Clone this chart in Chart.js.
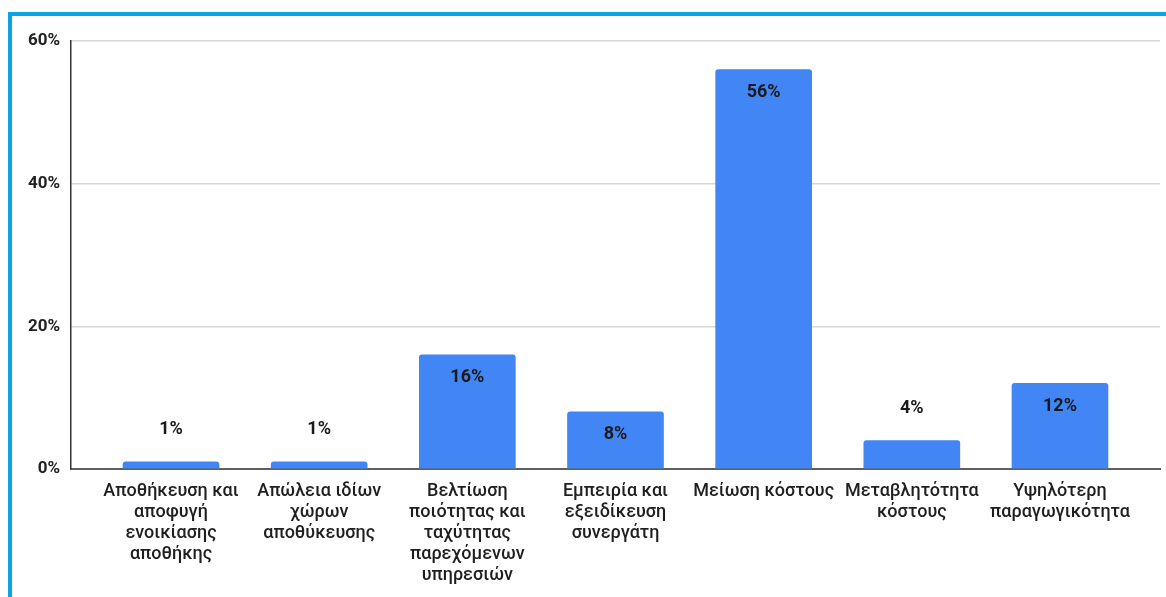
<!DOCTYPE html>
<html>
<head>
<meta charset="utf-8">
<script src="https://cdn.jsdelivr.net/npm/chart.js@4"></script>
<style>
  html, body { margin: 0; padding: 0; background: #fff; }
  #wrap { position: relative; width: 1166px; height: 597px; }
  #frame {
    position: absolute; left: 8px; top: 12px; right: 0; bottom: 0;
    border-top: 4px solid #0aa4e6; border-left: 4px solid #0aa4e6;
    pointer-events: none;
  }
</style>
</head>
<body>
<div id="wrap">
  <canvas id="chart" width="1166" height="597"></canvas>
  <div id="frame"></div>
</div>
<script>
// categories, one array of lines per bar
const categories = [
  ["Αποθήκευση και", "αποφυγή", "ενοικίασης", "αποθήκης"],
  ["Απώλεια ιδίων", "χώρων", "αποθύκευσης"],
  ["Βελτίωση", "ποιότητας και", "ταχύτητας", "παρεχόμενων", "υπηρεσιών"],
  ["Εμπειρία και", "εξειδίκευση", "συνεργάτη"],
  ["Μείωση κόστους"],
  ["Μεταβλητότητα", "κόστους"],
  ["Υψηλότερη", "παραγωγικότητα"]
];
const percentages = [1, 1, 16, 8, 56, 4, 12];
const yTicks = [0, 20, 40, 60];

// value labels: inside the bar when it is tall enough, above it otherwise
const barLabels = {
  id: 'barLabels',
  afterDatasetsDraw(chart) {
    const ctx = chart.ctx;
    const meta = chart.getDatasetMeta(0);
    ctx.save();
    ctx.font = 'bold 18px Roboto';
    ctx.fillStyle = '#1a1a1a';
    ctx.textAlign = 'center';
    ctx.textBaseline = 'middle';
    meta.data.forEach((bar, i) => {
      const v = percentages[i];
      const y = v >= 8 ? bar.y + 23 : bar.y - 32;
      ctx.fillText(v + '%', bar.x, y);
    });
    ctx.restore();
  }
};

new Chart(document.getElementById('chart'), {
  type: 'bar',
  data: {
    datasets: [{
      data: percentages.map((v, i) => ({ x: i, y: v })),
      backgroundColor: '#4285f4',
      borderRadius: { topLeft: 3, topRight: 3 },
      borderSkipped: 'bottom',
      barThickness: 96
    }]
  },
  options: {
    responsive: false,
    animation: false,
    layout: { padding: { left: 0, right: 6, top: 41, bottom: 0 } },
    plugins: { legend: { display: false }, tooltip: { enabled: false } },
    scales: {
      x: {
        type: 'linear',
        offset: false,
        min: -0.675,
        max: 6.675,
        afterBuildTicks: s => { s.ticks = categories.map((_, i) => ({ value: i })); },
        afterFit: s => { s.height = 128; },
        grid: { display: false, drawTicks: false },
        border: { display: true, color: '#5f5f5f', width: 2 },
        ticks: {
          autoSkip: false,
          maxRotation: 0,
          padding: 12,
          color: '#1f1f1f',
          font: { family: 'Roboto', size: 18, weight: '500', lineHeight: 1.17 },
          callback: v => categories[v]
        }
      },
      y: {
        min: 0,
        max: 60,
        afterBuildTicks: s => { s.ticks = yTicks.map(v => ({ value: v })); },
        afterFit: s => { s.width = 71; },
        grid: { color: '#d6d6d6', lineWidth: 1.5, drawTicks: false },
        border: { display: true, color: '#333', width: 1.5 },
        ticks: {
          padding: 11,
          color: '#222',
          font: { family: 'Roboto', size: 17, weight: 'bold' },
          callback: v => v + '%'
        }
      }
    }
  },
  plugins: [barLabels]
});
</script>
</body>
</html>
